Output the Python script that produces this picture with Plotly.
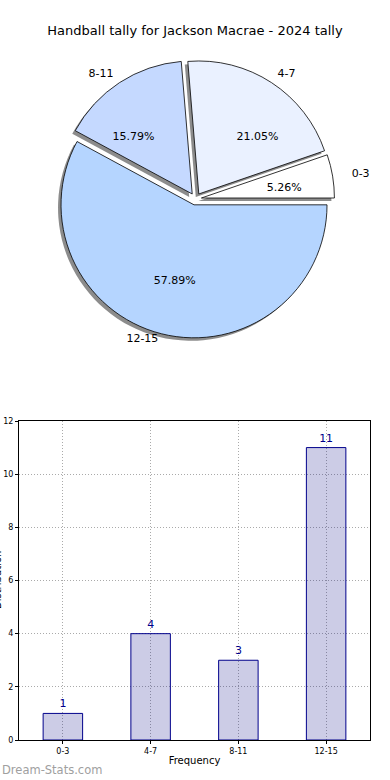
import plotly.graph_objects as go

title = "Handball tally for Jackson Macrae - 2024 tally"
categories = ["0-3", "4-7", "8-11", "12-15"]
counts = [1, 4, 3, 11]
pie_colors = ["#ffffff", "#eaf1ff", "#c5d9ff", "#b5d5ff"]

W, H = 390, 780
ML, MR, MT, MB = 19, 20, 0, 40
PW, PH = W - ML - MR, H - MT - MB

def px_x(x):
    return (x - ML) / PW

def px_y(y):
    return (H - MB - y) / PH

def domain(cx, cy, r, pulls_px):
    d = r + max(pulls_px)
    return dict(x=[px_x(cx - d), px_x(cx + d)], y=[px_y(cy + d), px_y(cy - d)])

# plotly's counterclockwise pies end the first slice at `rotation`,
# so shift it so the first slice starts at 3 o'clock (like matplotlib)
start_rot = 90 - 360 * counts[0] / sum(counts)

CX, CY = 195.5, 199
R_PIE = 133
EXPLODE = 6  # px, every wedge is exploded

font = "DejaVu Sans"
fig = go.Figure()

common = dict(labels=categories, values=counts, sort=False,
              direction="counterclockwise", rotation=start_rot,
              hoverinfo="skip", showlegend=False, automargin=False)
clear = dict(colors=["rgba(0,0,0,0)"] * 4, line=dict(width=0))

def pie_layer(r, pulls_px, dx=0, dy=0, **kw):
    return go.Pie(**common, pull=[q / r for q in pulls_px],
                  domain=domain(CX + dx, CY + dy, r, pulls_px), **kw)

# shadow
fig.add_trace(pie_layer(R_PIE, [EXPLODE] * 4, dx=-3, dy=3,
                        marker=dict(colors=["rgba(0,0,0,0.45)"] * 4, line=dict(width=0)),
                        textinfo="none"))
# wedges
fig.add_trace(pie_layer(R_PIE, [EXPLODE] * 4,
                        marker=dict(colors=pie_colors, line=dict(color="#000000", width=0.8)),
                        textinfo="none"))
# percentages of the small wedges
fig.add_trace(pie_layer(63, [EXPLODE] * 4, marker=clear,
                        texttemplate=["%{percent:.2%}"] * 3 + [""], textposition="outside",
                        outsidetextfont=dict(family=font, size=11, color="#000000")))
# percentage of the big wedge
fig.add_trace(pie_layer(157, [EXPLODE] * 4, marker=clear,
                        texttemplate=[""] * 3 + ["%{percent:.2%}"], textposition="inside",
                        insidetextorientation="horizontal",
                        insidetextfont=dict(family=font, size=11, color="#000000")))
# category labels
fig.add_trace(pie_layer(138, [EXPLODE + 11, EXPLODE, EXPLODE, EXPLODE - 6], marker=clear,
                        texttemplate="%{label}", textposition="outside",
                        outsidetextfont=dict(family=font, size=11, color="#000000")))

fig.add_trace(go.Bar(x=categories, y=counts, width=0.45,
                     marker=dict(color="rgba(0,0,128,0.2)", line=dict(color="#00008b", width=1)),
                     text=[str(c) for c in counts], textposition="outside",
                     textfont=dict(family=font, size=11, color="#00008b"),
                     cliponaxis=False, showlegend=False, hoverinfo="skip"))

fig.update_layout(
    width=W, height=H, autosize=False,
    margin=dict(l=ML, r=MR, t=MT, b=MB, autoexpand=False),
    paper_bgcolor="white", plot_bgcolor="white",
    font=dict(family=font, color="#000000"),
    title=dict(text=title, x=0.5, xref="container", y=1 - 30 / H, yref="container",
               yanchor="middle", font=dict(family=font, size=13, color="#000000")),
    xaxis=dict(domain=[0, 1], range=[-0.5, 3.5], type="category", automargin=False,
               showgrid=True, gridcolor="#aaaaaa", griddash="1px,2px", gridwidth=1,
               showline=True, linecolor="#000000", linewidth=1, mirror=True,
               ticks="outside", ticklen=3, tickcolor="#000000",
               tickfont=dict(family=font, size=8),
               title=dict(text="Frequency", font=dict(family=font, size=10), standoff=2)),
    yaxis=dict(domain=[0, px_y(421)], range=[0, 12], dtick=2, automargin=False,
               showgrid=True, gridcolor="#aaaaaa", griddash="1px,2px", gridwidth=1,
               showline=True, linecolor="#000000", linewidth=1, mirror=True,
               ticks="outside", ticklen=3, tickcolor="#000000",
               tickfont=dict(family=font, size=8), zeroline=False),
    annotations=[
        dict(text="Distribution", textangle=-90, xref="paper", yref="paper",
             x=px_x(-3), y=px_y(580), xanchor="center", yanchor="middle",
             showarrow=False, font=dict(family=font, size=10, color="#000000")),
        dict(text="Dream-Stats.com", xref="paper", yref="paper",
             x=px_x(0), y=px_y(770), xanchor="left", yanchor="middle",
             showarrow=False, font=dict(family=font, size=11.5, color="#a0a0a0")),
    ],
)

fig.write_html("out.html", config={"displayModeBar": False, "responsive": False},
               post_script="document.body.style.margin='0';")
